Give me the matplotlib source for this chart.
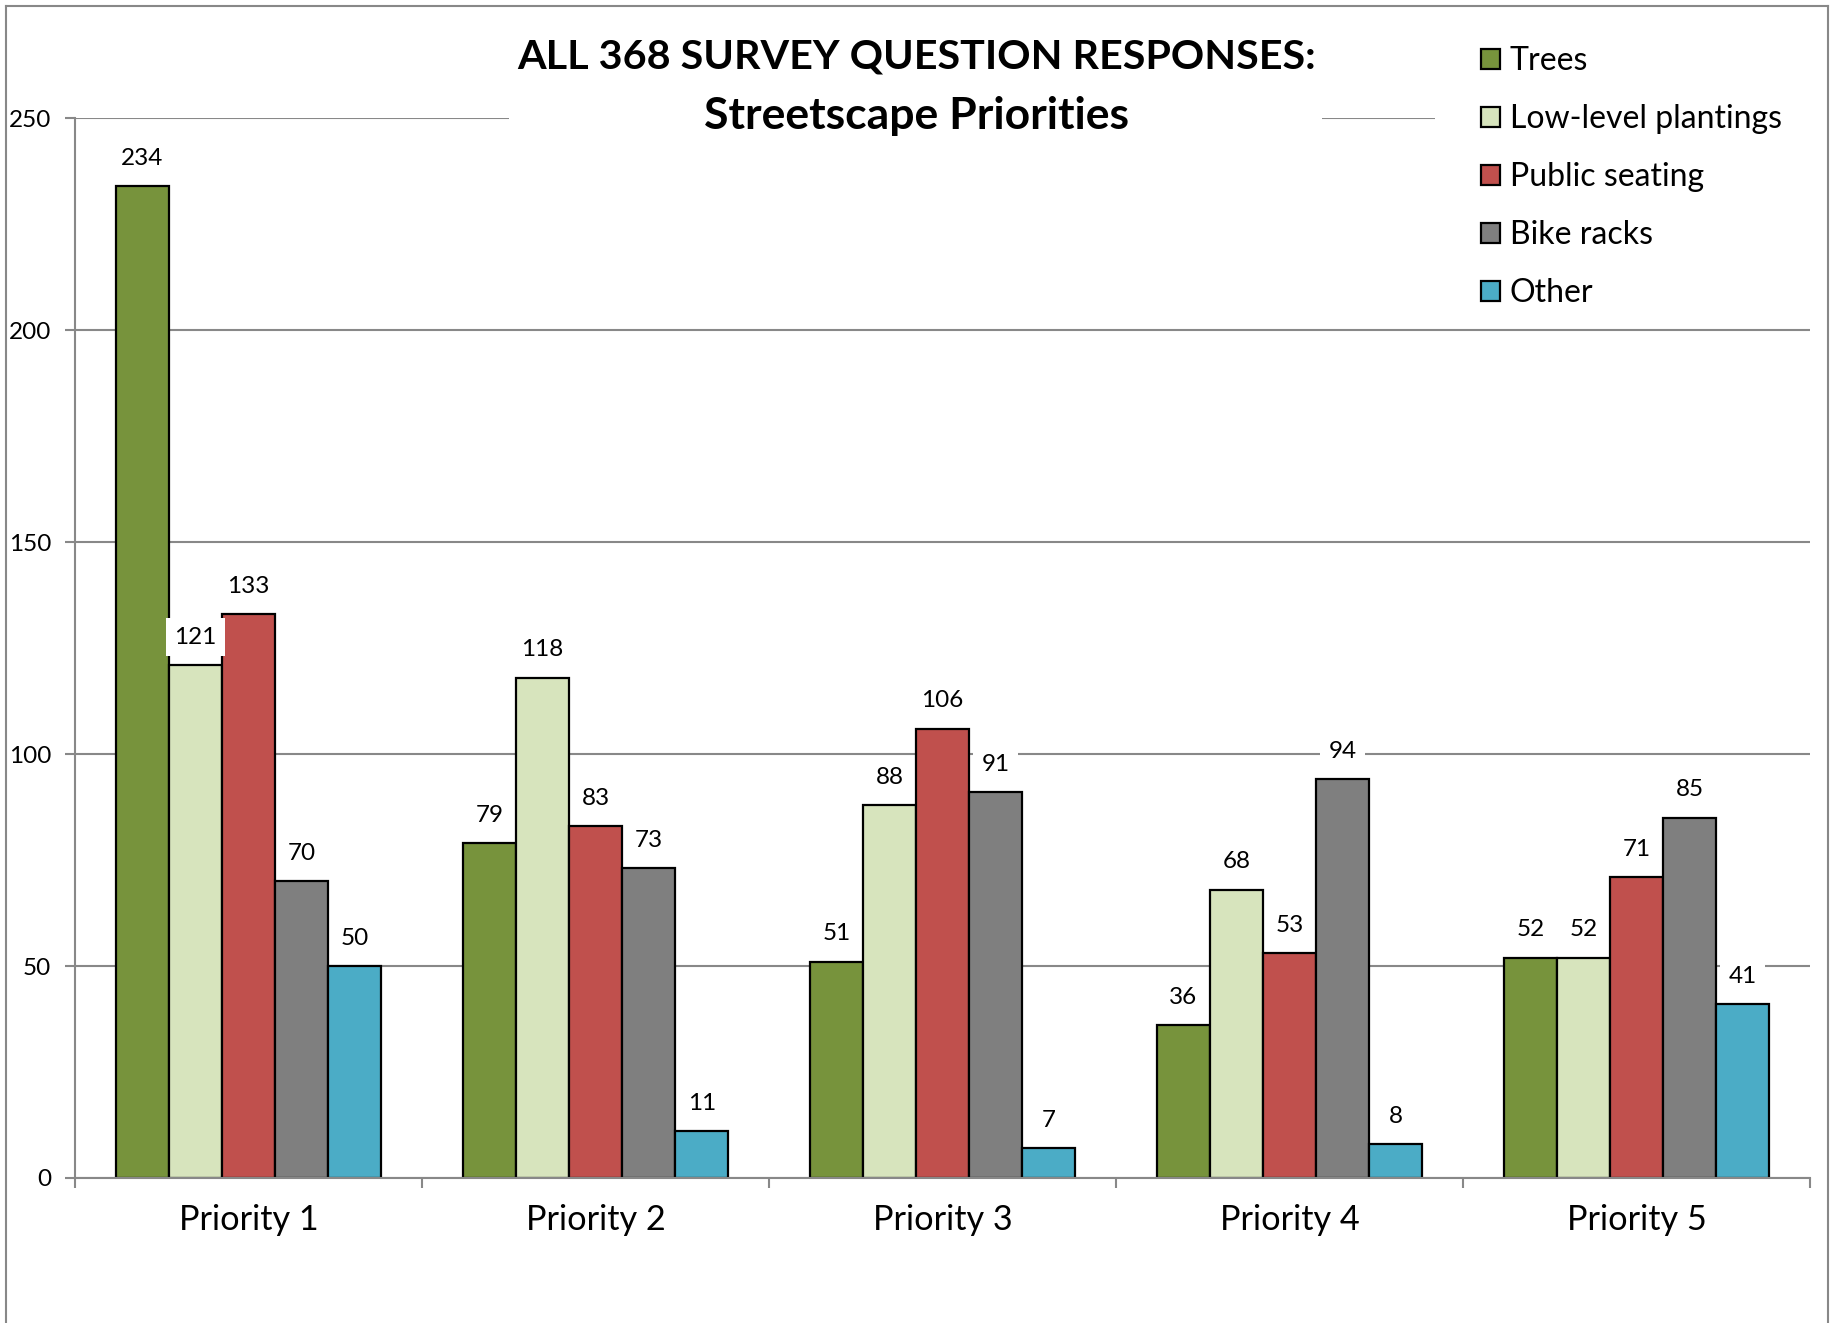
import numpy as np
import matplotlib.pyplot as plt
from matplotlib.lines import Line2D
from matplotlib.patches import Rectangle

# survey counts
priorities = ["Priority 1", "Priority 2", "Priority 3", "Priority 4", "Priority 5"]
trees = [234, 79, 51, 36, 52]
low_level = [121, 118, 88, 68, 52]
seating = [133, 83, 106, 53, 71]
bike_racks = [70, 73, 91, 94, 85]
other = [50, 11, 7, 8, 41]

series = ["Trees", "Low-level plantings", "Public seating", "Bike racks", "Other"]
colors = ["#77933C", "#D7E4BD", "#C0504D", "#7F7F7F", "#4BACC6"]

plt.rcParams['font.family'] = ['Lato', 'DejaVu Sans']
GRID = "#888888"

fig = plt.figure(figsize=(18.34, 13.23), dpi=100)
ax = fig.add_axes([0.0409, 0.1096, 0.987 - 0.0409, 0.9108 - 0.1096])

x = np.arange(len(priorities))
w = 0.153
for i, (name, vals) in enumerate(zip(series, [trees, low_level, seating, bike_racks, other])):
    pos = x + (i - 2) * w
    ax.bar(pos, vals, width=w, color=colors[i], edgecolor="black",
           linewidth=1.6, label=name, zorder=2)
    for px, v in zip(pos, vals):
        ax.annotate(str(v), (px, v), xytext=(0, 20), textcoords="offset points",
                    ha="center", va="center", fontsize=17.5, zorder=5,
                    bbox=dict(boxstyle="square,pad=0.35", fc="white", ec="none"))

ax.set_xlim(-0.5, 4.5)
ax.set_ylim(0, 250)
ax.set_yticks([0, 50, 100, 150, 200, 250])
ax.set_xticks(x)
ax.set_xticklabels(priorities, fontsize=24.7)
ax.set_xticks(np.arange(-0.5, 5, 1), minor=True)
ax.tick_params(axis="x", which="major", length=0, pad=19)
ax.tick_params(axis="x", which="minor", length=7, width=1.5, color=GRID)
ax.tick_params(axis="y", length=7, width=1.5, color=GRID, labelsize=17.5, pad=10)

for s in ["top", "right"]:
    ax.spines[s].set_visible(False)
for s in ["left", "bottom"]:
    ax.spines[s].set_color(GRID)
    ax.spines[s].set_linewidth(1.5)
    ax.spines[s].set_zorder(3)

ax.yaxis.grid(True, color=GRID, linewidth=1.5, zorder=0)
ax.set_axisbelow(True)

# title and legend areas blank out the top gridline
for x0, wd in [(0.2775, 0.4433), (0.7824, 0.21)]:
    ax.add_patch(Rectangle((x0, 0.895), wd, 0.03, transform=fig.transFigure,
                           facecolor="white", edgecolor="none", zorder=1.5, clip_on=False))
fig.text(0.4995, 0.957, "ALL 368 SURVEY QUESTION RESPONSES:", ha="center", va="center",
         fontsize=29.7, fontweight="bold", zorder=4)
fig.text(0.4995, 0.9125, "Streetscape Priorities", ha="center", va="center",
         fontsize=32, fontweight="bold", zorder=4)

leg = ax.legend(loc="upper left", bbox_to_anchor=(0.8005, 0.9746),
                bbox_transform=fig.transFigure, fontsize=23, frameon=False,
                handlelength=0.6, handleheight=0.6, handletextpad=0.3,
                labelspacing=0.875, borderpad=0.4, borderaxespad=0)
leg.set_zorder(6)

# outer chart border
for xs, ys in [([0.0033, 0.0033], [0.0, 0.9955]), ([0.0033, 0.9965], [0.9955, 0.9955]),
               ([0.9965, 0.9965], [0.0, 0.9955])]:
    fig.add_artist(Line2D(xs, ys, color=GRID, linewidth=1.5, zorder=10))

fig.savefig("out.png", dpi=100)
